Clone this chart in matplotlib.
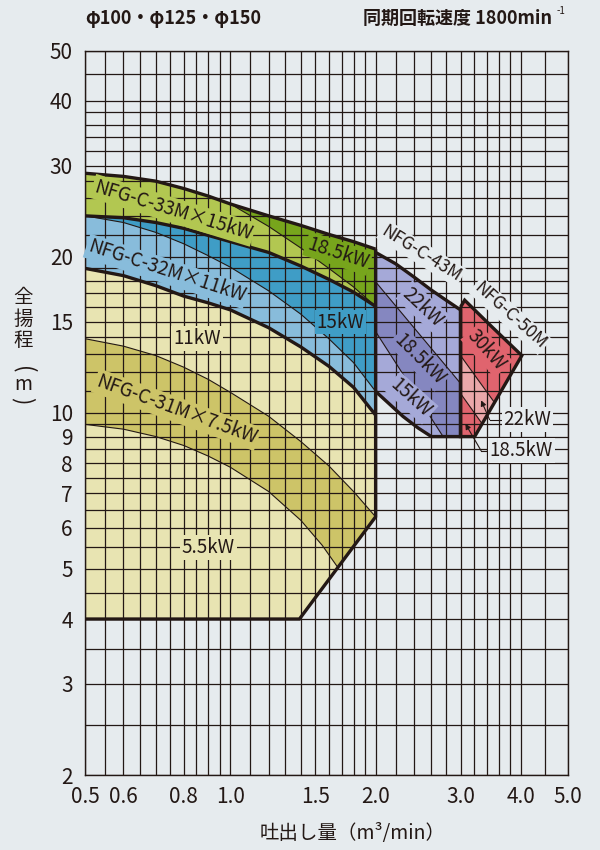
import matplotlib
matplotlib.use("Agg")
import matplotlib.pyplot as plt
import numpy as np

plt.rcParams['font.family'] = ['Noto Sans CJK JP', 'DejaVu Sans']

# ---------------------------------------------------------------------------
# Data: flow (m3/min) / head (m)
# ---------------------------------------------------------------------------

# NFG-C-33M top curve
top33_q = [0.5, 0.6, 0.7, 0.8, 0.9, 1.0, 1.2, 1.4, 1.6, 1.8, 2.0]
top33_h = [29.0, 28.6, 28.0, 27.1, 26.2, 25.3, 24.0, 23.0, 22.1, 21.4, 20.7]
# 33M bottom = 32M top
bot33_q = [0.5, 0.6, 0.7, 0.8, 0.9, 1.0, 1.2, 1.4, 1.6, 1.8, 2.0]
bot33_h = [24.0, 23.8, 23.3, 22.7, 22.0, 21.4, 20.4, 19.2, 18.1, 17.1, 16.05]
# 33M 15kW / 18.5kW divider
div33_q = [1.0, 1.2, 1.4, 1.6, 1.8, 2.0]
div33_h = [25.3, 22.9, 20.8, 19.0, 17.5, 16.05]
# 32M bottom
bot32_q = [0.5, 0.6, 0.7, 0.8, 0.9, 1.0, 1.2, 1.4, 1.6, 1.8, 2.0]
bot32_h = [19.0, 18.4, 17.6, 16.8, 16.3, 15.8, 14.6, 13.4, 12.3, 11.2, 9.9]
# 32M 11kW / 15kW divider
div32_q = [0.5, 0.6, 0.7, 0.8, 0.9, 1.0, 1.2, 1.4, 1.6, 1.8, 2.0]
div32_h = [24.0, 23.3, 22.3, 21.2, 20.1, 19.1, 17.2, 15.5, 13.9, 12.5, 11.0]
# NFG-C-31M band
up31_q = [0.5, 0.6, 0.7, 0.8, 0.9, 1.0, 1.2, 1.4, 1.6, 1.8, 2.0]
up31_h = [13.9, 13.45, 12.9, 12.25, 11.6, 10.95, 9.85, 8.8, 7.9, 7.05, 6.3]
low31_q = [0.5, 0.6, 0.7, 0.8, 0.9, 1.0, 1.2, 1.4, 1.55, 1.67]
low31_h = [9.5, 9.3, 9.0, 8.65, 8.25, 7.85, 7.05, 6.2, 5.55, 5.03]
# 31M lower envelope corners
env31_q = [2.0, 1.39, 0.5]
env31_h = [6.3, 4.0, 4.0]

# NFG-C-43M
top43_q = [2.0, 2.2, 2.4, 2.6, 2.8, 3.0]
top43_h = [20.4, 19.4, 18.3, 17.3, 16.5, 15.8]
low43_q = [2.0, 2.28, 2.45, 2.61]
low43_h = [11.0, 9.84, 9.35, 9.0]
div43a_q = [2.0, 3.0]
div43a_h = [17.9, 11.4]
div43b_q = [2.0, 2.76]
div43b_h = [14.35, 9.0]

# NFG-C-50M
out50_q = [3.0, 3.06, 3.5, 4.02, 3.21, 3.0]
out50_h = [16.0, 16.5, 14.6, 12.9, 9.0, 9.0]
div50c_q = [3.0, 3.52]
div50c_h = [12.9, 10.5]
div50d_q = [3.0, 3.32]
div50d_h = [10.9, 9.55]

x_ticks = [0.5, 0.6, 0.8, 1.0, 1.5, 2.0, 3.0, 4.0, 5.0]
y_ticks = [2, 3, 4, 5, 6, 7, 8, 9, 10, 15, 20, 30, 40, 50]

# text labels: (text, q, h, rotation, face colour key, size)
labels = [
    ("NFG-C-33M×15kW", 0.76, 24.6, -17, "lgreen", 13.5),
    ("18.5kW", 1.67, 20.3, -18, "dgreen", 13.5),
    ("NFG-C-32M×11kW", 0.737, 18.75, -18, "lblue", 13.5),
    ("15kW", 1.69, 14.97, 0, "dblue", 13.5),
    ("11kW", 0.853, 13.9, 0, "yellow", 13.5),
    ("NFG-C-31M×7.5kW", 0.773, 10.14, -20, "olive", 13.5),
    ("5.5kW", 0.899, 5.5, 0, "yellow", 13.5),
    ("NFG-C-43M", 2.49, 20.3, -32, "bg", 12.5),
    ("22kW", 2.507, 16.0, -43, "llav", 13.5),
    ("18.5kW", 2.468, 12.7, -45, "dlav", 13.5),
    ("15kW", 2.37, 10.68, -42, "llav", 13.5),
    ("NFG-C-50M", 3.80, 15.4, -42, "bg", 12.5),
    ("30kW", 3.40, 13.2, -48, "red", 13.5),
]
# leader labels: (text, text q, text h, bend q, bend h, tip q, tip h)
leaders = [
    ("22kW", 4.13, 9.70, 3.447, 9.70, 3.31, 10.57),
    ("18.5kW", 4.01, 8.45, 3.31, 8.45, 3.07, 9.53),
]

COL = {
    "bg": "#e6ebee",
    "yellow": "#e8e4b2",
    "olive": "#cdc468",
    "lgreen": "#b2c751",
    "dgreen": "#77a51c",
    "lblue": "#88bcdb",
    "dblue": "#3f9dc6",
    "llav": "#a5a9d8",
    "dlav": "#8587c0",
    "red": "#e0646e",
    "pink": "#eaa8aa",
}
INK = "#231815"


def _fill(ax, q, h, key):
    ax.fill(q, h, color=COL[key], lw=0, zorder=1)


def _line(ax, q, h, lw):
    ax.plot(q, h, color=INK, lw=lw, zorder=4 if lw > 1.5 else 3,
            solid_joinstyle="miter", solid_capstyle="butt")


fig = plt.figure(figsize=(6, 8.5), dpi=100, facecolor=COL["bg"])
ax = fig.add_axes([85.3 / 600, 75 / 850, 482.2 / 600, 724.3 / 850])
ax.set_facecolor(COL["bg"])
ax.set_xscale("log")
ax.set_yscale("log")
ax.set_xlim(0.5, 5.0)
ax.set_ylim(2, 50)

# --- fills -------------------------------------------------------------
_fill(ax, bot32_q + env31_q, bot32_h + env31_h, "yellow")
_fill(ax, up31_q + low31_q[::-1], up31_h + low31_h[::-1], "olive")
_fill(ax, bot33_q + bot32_q[::-1], bot33_h + bot32_h[::-1], "lblue")
_fill(ax, bot33_q + div32_q[::-1], bot33_h + div32_h[::-1], "dblue")
_fill(ax, top33_q + bot33_q[::-1], top33_h + bot33_h[::-1], "lgreen")
sel = [i for i, q in enumerate(top33_q) if q >= div33_q[0]]
_fill(ax, [top33_q[i] for i in sel] + div33_q[::-1],
      [top33_h[i] for i in sel] + div33_h[::-1], "dgreen")

_fill(ax, top43_q + [3.0] + low43_q[::-1], top43_h + [9.0] + low43_h[::-1], "llav")
_fill(ax, div43a_q + [3.0] + div43b_q[::-1], div43a_h + [9.0] + div43b_h[::-1], "dlav")

_fill(ax, out50_q, out50_h, "red")
_fill(ax, div50c_q + div50d_q[::-1], div50c_h + div50d_h[::-1], "pink")

# --- thin dividers -----------------------------------------------------
for q, h in [(div33_q, div33_h), (div32_q, div32_h), (up31_q, up31_h),
             (low31_q, low31_h), (div43a_q, div43a_h), (div43b_q, div43b_h),
             (div50c_q, div50c_h), (div50d_q, div50d_h)]:
    _line(ax, q, h, 0.8)

# --- thick outlines ----------------------------------------------------
_line(ax, top33_q, top33_h, 2.4)
_line(ax, bot33_q, bot33_h, 2.4)
_line(ax, bot32_q, bot32_h, 2.4)
_line(ax, [2.0, 2.0] + env31_q, [top33_h[-1], env31_h[0]] + env31_h, 2.4)
_line(ax, top43_q + [3.0] + low43_q[::-1], top43_h + [9.0] + low43_h[::-1], 2.4)
_line(ax, out50_q + out50_q[:1], out50_h + out50_h[:1], 2.4)

# --- grid ----------------------------------------------------------------
x_grid = list(np.arange(0.5, 1.0, 0.05)) + list(np.arange(1.0, 2.0, 0.1)) \
    + list(np.arange(2.0, 4.0, 0.2)) + [4.0, 4.5, 5.0]
y_grid = list(np.arange(2.0, 10.0, 0.5)) + list(range(10, 20)) \
    + list(range(20, 40, 2)) + [40, 45, 50]
ax.set_xticks(x_grid, minor=True)
ax.set_yticks(y_grid, minor=True)
ax.set_xticks(x_ticks)
ax.set_xticklabels([f"{v:.1f}" for v in x_ticks])
ax.set_yticks(y_ticks)
ax.set_yticklabels([str(v) for v in y_ticks])
ax.set_xticklabels([], minor=True)
ax.set_yticklabels([], minor=True)
ax.set_axisbelow(False)
ax.grid(which="both", color=INK, lw=0.9)
ax.tick_params(which="both", length=0, colors=INK, labelsize=15)
ax.tick_params(axis="x", pad=8)
ax.tick_params(axis="y", pad=9)
for s in ax.spines.values():
    s.set_color(INK)
    s.set_linewidth(1.0)
    s.set_zorder(3)

# --- labels --------------------------------------------------------------
for text, q, h, rot, key, size in labels:
    ax.text(q, h, text, rotation=rot, rotation_mode="anchor", ha="center",
            va="center", fontsize=size, color=INK, zorder=6,
            bbox=dict(boxstyle="square,pad=0.1", fc=COL[key], ec="none"))

for text, tq, th, bq, bh, pq, ph in leaders:
    ax.text(tq, th, text, ha="center", va="center", fontsize=13.5,
            color=INK, zorder=6,
            bbox=dict(boxstyle="square,pad=0.1", fc=COL["bg"], ec="none"))
    ax.plot([tq * 0.9, bq], [th, bh], color=INK, lw=0.8, zorder=5)
    ax.annotate("", xy=(pq, ph), xytext=(bq, bh), zorder=5,
                arrowprops=dict(arrowstyle="-|>", color=INK, lw=0.8,
                                mutation_scale=8, shrinkA=0, shrinkB=0))

fig.text(85 / 600, 1 - 18 / 850, "φ100・φ125・φ150", ha="left", va="center",
         fontsize=13, color=INK, fontweight="bold")
fig.text(552 / 600, 1 - 18 / 850, "同期回転速度 1800min", ha="right",
         va="center", fontsize=13, color=INK, fontweight="bold")
fig.text(557 / 600, 1 - 11 / 850, "-1", ha="left", va="center",
         fontsize=7, color=INK)
fig.text(353 / 600, 1 - 833 / 850, "吐出し量（m³/min）", ha="center",
         va="center", fontsize=14, color=INK)
for ch, yy, rot in zip(["全", "揚", "程", "(", "m", ")"],
                       [298, 319, 341, 370, 385, 401],
                       [0, 0, 0, -90, 0, -90]):
    fig.text(23 / 600, 1 - yy / 850, ch, ha="center", va="center",
             rotation=rot, fontsize=16 if rot else 14, color=INK)

fig.savefig("out.png", dpi=100, facecolor=COL["bg"])
